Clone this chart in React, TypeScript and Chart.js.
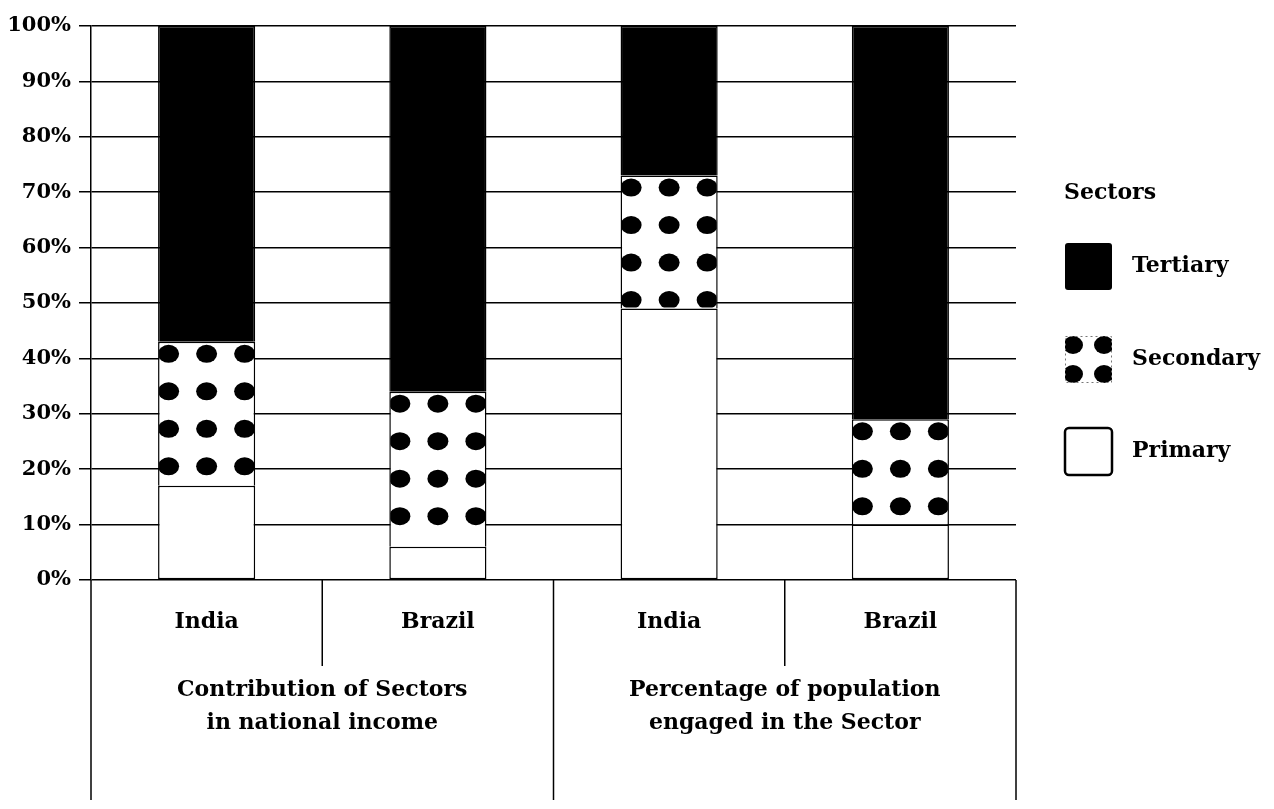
import React, { useEffect, useRef } from "react";
import { Chart, registerables } from "chart.js";

Chart.register(...registerables);

// ---- data ----
const categories = ["India", "Brazil", "India", "Brazil"];
const groupLabels = [
  ["Contribution of Sectors", "in national income"],
  ["Percentage of population", "engaged in the Sector"],
];
const seriesNames = ["Primary", "Secondary", "Tertiary"];
const primaryValues = [17, 6, 49, 10];
const secondaryValues = [26, 28, 24, 19];
const tertiaryValues = [57, 66, 27, 71];
const yTickLabels = ["0%", "10%", "20%", "30%", "40%", "50%", "60%", "70%", "80%", "90%", "100%"];
const legendTitle = "Sectors";

const FONT = "'DejaVu Serif', 'Liberation Serif', serif";

const dotsPlugin = {
  id: "secondaryDots",
  afterDatasetDraw(chart: any, args: any) {
    if (args.index !== 1) return;
    const ctx = chart.ctx;
    args.meta.data.forEach((bar: any) => {
      const { x, y, base, width } = bar.getProps(["x", "y", "base", "width"], true);
      const left = x - width / 2;
      const top = Math.min(y, base);
      const bottom = Math.max(y, base);
      ctx.save();
      ctx.beginPath();
      ctx.rect(left + 1, top + 1, width - 2, bottom - top - 2);
      ctx.clip();
      ctx.fillStyle = "#000";
      for (let cy = top + 12; cy < bottom - 4; cy += 37.5) {
        for (const dx of [-38, 0, 38]) {
          ctx.beginPath();
          ctx.ellipse(x + dx, cy, 10.5, 9, 0, 0, Math.PI * 2);
          ctx.fill();
        }
      }
      ctx.restore();
    });
  },
};

const tablePlugin = {
  id: "tableAndLegend",
  afterDraw(chart: any) {
    const { ctx, chartArea } = chart;
    const n = categories.length;
    const step = (chartArea.right - chartArea.left) / n;
    const bottom = chartArea.bottom;
    const pageBottom = 800;
    ctx.save();
    ctx.strokeStyle = "#000";
    ctx.lineWidth = 1.5;
    const vline = (x: number, y1: number, y2: number) => {
      ctx.beginPath();
      ctx.moveTo(x, y1);
      ctx.lineTo(x, y2);
      ctx.stroke();
    };
    vline(chartArea.left, bottom, pageBottom);
    vline(chartArea.right, bottom, pageBottom);
    for (let i = 1; i < n; i++) {
      const bx = chartArea.left + i * step;
      vline(bx, bottom, i % 2 === 0 ? pageBottom : bottom + 86);
    }
    // group labels
    ctx.fillStyle = "#000";
    ctx.font = `bold 22px ${FONT}`;
    ctx.textAlign = "center";
    ctx.textBaseline = "middle";
    groupLabels.forEach((lines, g) => {
      const cx = chartArea.left + step * (2 * g + 1);
      lines.forEach((t, li) => {
        ctx.fillText(t, cx, bottom + 110 + li * 33);
      });
    });

    // legend
    const lx = 1065;
    const box = 47;
    ctx.textAlign = "left";
    ctx.font = `bold 22px ${FONT}`;
    ctx.fillText(legendTitle, 1064, 193);
    const rows = [
      { name: seriesNames[2], y: 243 },
      { name: seriesNames[1], y: 336 },
      { name: seriesNames[0], y: 428 },
    ];
    rows.forEach((r, i) => {
      if (i === 0) {
        ctx.fillStyle = "#000";
        ctx.beginPath();
        ctx.roundRect(lx, r.y, box, box, 3);
        ctx.fill();
      } else if (i === 1) {
        ctx.save();
        ctx.beginPath();
        ctx.rect(lx, r.y, box, box);
        ctx.clip();
        ctx.fillStyle = "#000";
        const pts = [
          [lx + 8, r.y + 9],
          [lx + box - 8, r.y + 9],
          [lx + 8, r.y + box - 9],
          [lx + box - 8, r.y + box - 9],
        ];
        pts.forEach(([px, py]) => {
          ctx.beginPath();
          ctx.ellipse(px, py, 10, 9, 0, 0, Math.PI * 2);
          ctx.fill();
        });
        ctx.restore();
        ctx.save();
        ctx.strokeStyle = "#777";
        ctx.lineWidth = 1;
        ctx.setLineDash([2, 3]);
        ctx.strokeRect(lx + 0.5, r.y + 0.5, box - 1, box - 1);
        ctx.restore();
      } else {
        ctx.strokeStyle = "#000";
        ctx.lineWidth = 2.5;
        ctx.beginPath();
        ctx.roundRect(lx, r.y, box, box, 4);
        ctx.stroke();
      }
      ctx.fillStyle = "#000";
      ctx.font = `bold 22px ${FONT}`;
      ctx.fillText(r.name, 1132, r.y + box / 2);
    });
    ctx.restore();
  },
};

export default function App() {
  const ref = useRef<HTMLCanvasElement | null>(null);
  useEffect(() => {
    if (!ref.current) return;
    const chart = new Chart(ref.current, {
      type: "bar",
      data: {
        labels: categories,
        datasets: [
          {
            label: seriesNames[0],
            data: primaryValues,
            backgroundColor: "#fff",
            borderColor: "#000",
            borderWidth: 1.5,
            borderSkipped: false,
          },
          {
            label: seriesNames[1],
            data: secondaryValues,
            backgroundColor: "#fff",
            borderColor: "#000",
            borderWidth: 1.5,
            borderSkipped: "bottom",
          },
          {
            label: seriesNames[2],
            data: tertiaryValues,
            backgroundColor: "#000",
            borderColor: "#000",
            borderWidth: 1.5,
            borderSkipped: "bottom",
          },
        ],
      },
      options: {
        animation: false,
        responsive: true,
        maintainAspectRatio: false,
        datasets: { bar: { categoryPercentage: 1, barPercentage: 0.42 } },
        layout: { padding: { top: 26, right: 258, bottom: 0, left: 0 } },
        plugins: { legend: { display: false }, tooltip: { enabled: false } },
        scales: {
          x: {
            stacked: true,
            grid: { display: false },
            border: { display: false },
            ticks: {
              color: "#000",
              padding: 21,
              font: { family: FONT, size: 22, weight: "bold" },
            },
            afterFit: (s: any) => {
              s.height = 229;
            },
          },
          y: {
            stacked: true,
            min: 0,
            max: 100,
            ticks: {
              stepSize: 10,
              color: "#000",
              padding: 8,
              font: { family: FONT, size: 21, weight: "bold" },
              callback: (_v: any, i: number) => yTickLabels[i],
            },
            grid: { color: "#000", lineWidth: 1.5, tickLength: 12, drawTicks: true },
            border: { display: true, color: "#000", width: 1.5 },
            afterFit: (s: any) => {
              s.width = 91;
            },
          },
        },
      },
      plugins: [dotsPlugin, tablePlugin],
    } as any);
    return () => chart.destroy();
  }, []);
  return (
    <div style={{ position: "fixed", left: 0, top: 0, width: 1274, height: 809, background: "#fff" }}>
      <canvas ref={ref} />
    </div>
  );
}
